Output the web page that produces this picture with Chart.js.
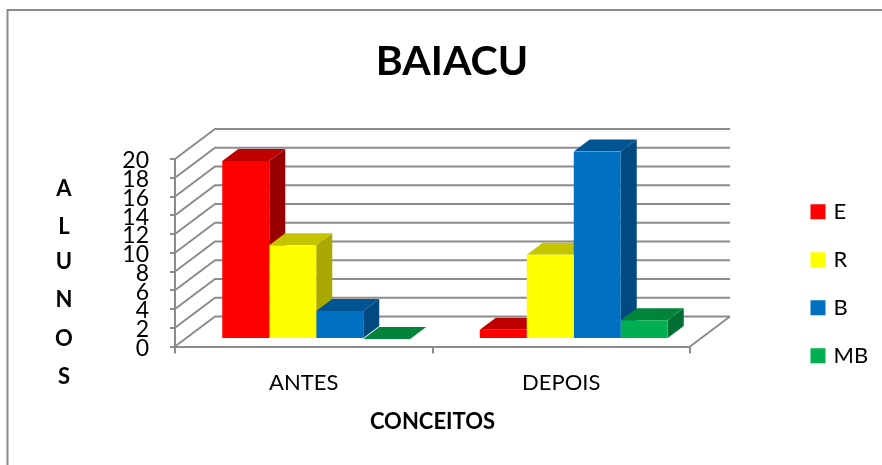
<!DOCTYPE html>
<html><head><meta charset="utf-8">
<style>html,body{margin:0;padding:0;background:#fff;overflow:hidden}#w{position:relative;width:882px;height:465px}</style>
<script src="https://cdn.jsdelivr.net/npm/chart.js@4/dist/chart.umd.min.js"></script>
</head><body><div id="w"><canvas id="c" width="882" height="465"></canvas></div>
<script>
const categories = ['ANTES', 'DEPOIS'];
const seriesNames = ['E', 'R', 'B', 'MB'];
const valuesE = [19, 1];
const valuesR = [10, 9];
const valuesB = [3, 20];
const valuesMB = [0, 2];
const seriesValues = [valuesE, valuesR, valuesB, valuesMB];
const chartTitle = 'BAIACU';
const xTitle = 'CONCEITOS';
const yTitle = ['A', 'L', 'U', 'N', 'O', 'S'];

const frontColors = ['#FF0000', '#FFFF00', '#0070C0', '#00B050'];
const topColors = ['#C00000', '#C4C400', '#005491', '#008439'];
const sideColors = ['#990000', '#A8A800', '#004A80', '#006F33'];
const yTitleCentres = [189, 227, 262, 300, 339, 377];
const GRID = '#8c8c8c', FONT = 'Lato';
const WALL_DX = 40, WALL_DY = 30, BAR_DX = 16, BAR_DY = 12, SHIFT_X = 12.5, SHIFT_Y = 7.5;

function poly(ctx, pts, color) {
  ctx.beginPath();
  pts.forEach((p, i) => i ? ctx.lineTo(p[0], p[1]) : ctx.moveTo(p[0], p[1]));
  ctx.closePath();
  ctx.fillStyle = color;
  ctx.fill();
}

const scene3d = {
  id: 'scene3d',
  beforeLayout(chart) {
    const lg = chart.legend;
    if (!lg._fitWrapped) {
      const fit = lg.fit;
      lg.fit = function () { fit.call(this); this.width = 192; };
      lg._fitWrapped = true;
    }
  },
  afterLayout(chart) {
    const t = chart.titleBlock;
    t.left = 22; t.right = 882;
    const l = chart.legend, h = l.bottom - l.top;
    l.left = 787.5; l.right = 882; l.top = 174.7; l.bottom = 174.7 + h;
  },
  beforeDraw(chart) {
    const ctx = chart.ctx;
    ctx.save();
    ctx.strokeStyle = GRID;
    ctx.lineWidth = 2;
    ctx.beginPath();
    ctx.moveTo(7.5, 465); ctx.lineTo(7.5, 10); ctx.lineTo(882, 10);
    ctx.stroke();
    ctx.restore();
  },
  beforeDatasetsDraw(chart) {
    const ctx = chart.ctx, x = chart.scales.x, y = chart.scales.y;
    ctx.save();
    ctx.strokeStyle = GRID;
    ctx.lineWidth = 2;
    y.ticks.forEach(tk => {
      const py = y.getPixelForValue(tk.value);
      ctx.beginPath();
      ctx.moveTo(x.left, py);
      ctx.lineTo(x.left + WALL_DX, py - WALL_DY);
      ctx.lineTo(x.right + WALL_DX, py - WALL_DY);
      ctx.stroke();
    });
    ctx.beginPath();
    ctx.moveTo(x.right, y.bottom);
    ctx.lineTo(x.right + WALL_DX, y.bottom - WALL_DY);
    ctx.stroke();
    // stacked vertical axis title
    ctx.fillStyle = '#000';
    ctx.font = 'bold 22px ' + FONT;
    ctx.textAlign = 'center';
    ctx.textBaseline = 'middle';
    yTitle.forEach((s, i) => ctx.fillText(s, 64, yTitleCentres[i]));
    ctx.restore();

    ctx.save();
    ctx.translate(SHIFT_X, -SHIFT_Y);
    // extruded faces, left to right; the library paints the front faces afterwards
    seriesNames.forEach((_, i) => {
      chart.getDatasetMeta(i).data.forEach(bar => {
        const p = bar.getProps(['x', 'y', 'base', 'width'], true);
        const l = p.x - p.width / 2, r = p.x + p.width / 2;
        poly(ctx, [[r, p.y], [r + BAR_DX, p.y - BAR_DY], [r + BAR_DX, p.base - BAR_DY], [r, p.base]], sideColors[i]);
        poly(ctx, [[l, p.y], [r, p.y], [r + BAR_DX, p.y - BAR_DY], [l + BAR_DX, p.y - BAR_DY]], topColors[i]);
      });
    });
  },
  afterDatasetsDraw(chart) {
    chart.ctx.restore();
  }
};

new Chart(document.getElementById('c'), {
  type: 'bar',
  data: {
    labels: categories,
    datasets: seriesNames.map((name, i) => ({
      label: name,
      data: seriesValues[i],
      backgroundColor: frontColors[i],
      borderWidth: 0
    }))
  },
  plugins: [scene3d],
  options: {
    responsive: false,
    animation: false,
    layout: { padding: 0 },
    datasets: { bar: { barPercentage: 1, categoryPercentage: 0.73 } },
    plugins: {
      tooltip: { enabled: false },
      title: {
        display: true,
        text: chartTitle,
        color: '#000',
        font: { family: FONT, size: 41, weight: 'bold', lineHeight: 1.2 },
        padding: { top: 37, bottom: 72.8 }
      },
      legend: {
        position: 'right',
        align: 'start',
        labels: {
          boxWidth: 9,
          boxHeight: 9,
          color: '#000',
          padding: 26,
          font: { family: FONT, size: 22 },
          generateLabels: chart => Chart.defaults.plugins.legend.labels.generateLabels(chart)
            .map(item => ({ ...item, strokeStyle: item.fillStyle, lineWidth: 6 }))
        }
      }
    },
    scales: {
      x: {
        afterFit(s) { s.height = 118.5; },
        grid: { color: GRID, lineWidth: 2, drawOnChartArea: false, tickLength: 7 },
        border: { color: GRID, width: 2 },
        ticks: { color: '#000', padding: 16, font: { family: FONT, size: 22 } },
        title: {
          display: true, text: xTitle, color: '#000',
          font: { family: FONT, size: 22, weight: 'bold' },
          padding: { top: 0, bottom: 30 }
        }
      },
      y: {
        min: 0, max: 20,
        afterFit(s) { s.width = 175; },
        grid: { color: GRID, lineWidth: 2, drawOnChartArea: false, tickLength: 5 },
        border: { color: GRID, width: 2 },
        ticks: { stepSize: 2, autoSkip: false, color: '#000', padding: 21, labelOffset: 2, font: { family: FONT, size: 23 } }
      }
    }
  }
});
</script></body></html>
